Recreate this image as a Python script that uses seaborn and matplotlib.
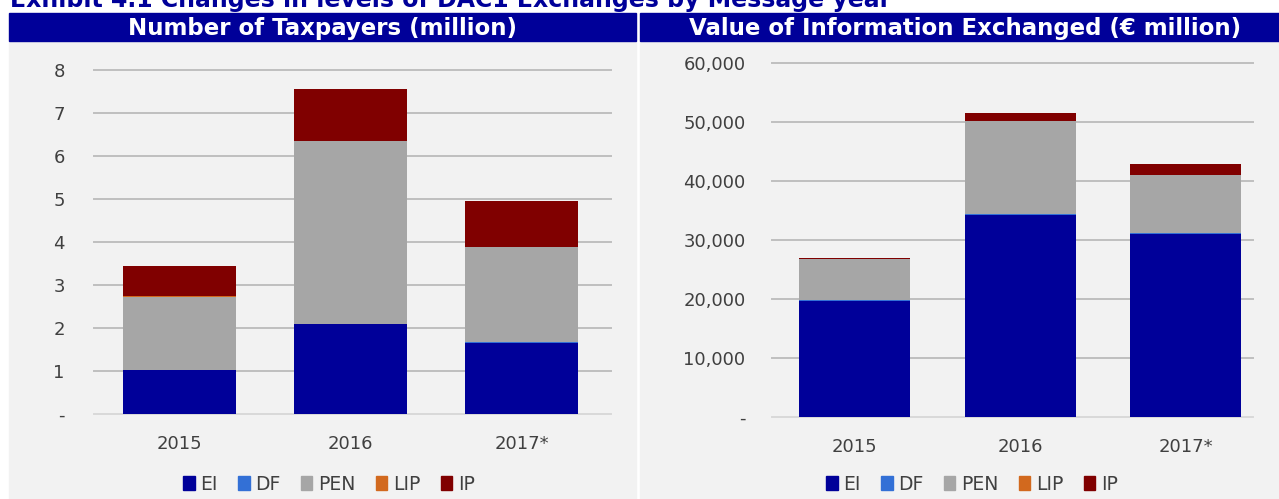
import seaborn as sns
import pandas as pd
import matplotlib
matplotlib.use('Agg')
import matplotlib.pyplot as mp
from matplotlib.patches import Rectangle
from matplotlib.ticker import FuncFormatter


years = ['2015', '2016', '2017*']
series = ['EI', 'DF', 'PEN', 'LIP', 'IP']
colors = ['#000099', '#3370d6', '#a6a6a6', '#d2691e', '#800000']

# number of taxpayers (million)
tp_ei = [1.02, 2.09, 1.66]
tp_df = [0.01, 0.01, 0.01]
tp_pen = [1.70, 4.25, 2.21]
tp_lip = [0.005, 0.005, 0.005]
tp_ip = [0.71, 1.21, 1.07]

# value of information exchanged (EUR million)
val_ei = [19600, 34200, 31000]
val_df = [150, 200, 180]
val_pen = [7000, 15800, 9800]
val_lip = [20, 30, 20]
val_ip = [130, 1300, 1900]

W, H = 1279, 499


def px(x0, y0, x1, y1):
    # pixel box (top-left origin) -> figure fraction rect
    return [x0 / W, (H - y1) / H, (x1 - x0) / W, (y1 - y0) / H]


def draw_panel(ax, values, ymax, step, xlim, bar_w, ypad):
    df = pd.DataFrame(values, index=series, columns=years).T
    cum = df.cumsum(axis=1)
    # draw the stacks from the top down so each layer covers the next
    for name, col in reversed(list(zip(series, colors))):
        sns.barplot(x=years, y=cum[name].values, color=col, saturation=1,
                    width=bar_w, edgecolor='none', ax=ax)
    ax.set_xlim(*xlim)
    ax.set_ylim(0, ymax)
    ax.set_yticks([i * step for i in range(int(round(ymax / step)) + 1)])
    ax.yaxis.set_major_formatter(FuncFormatter(
        lambda v, p: '-' if v == 0 else f'{v:,.0f}'))
    ax.set_axisbelow(True)
    ax.yaxis.grid(True, color='#bfbfbf', lw=1.4)
    ax.set_facecolor('none')
    ax.set_zorder(2)
    for s in ax.spines.values():
        s.set_visible(False)
    ax.tick_params(axis='both', length=0, labelsize=13, colors='#404040')
    ax.tick_params(axis='y', pad=ypad)
    ax.tick_params(axis='x', pad=15)
    ax.set_xlabel('')
    ax.set_ylabel('')
    grid = ax.get_ygridlines()
    for ln in grid:
        ln.set_clip_on(False)
    grid[0].set_color('#d9d9d9')


fig = mp.figure(figsize=(W / 100, H / 100), dpi=100)
fig.patch.set_facecolor('white')

# panel backgrounds and header bars
for box in [(9, 42, 636, 499), (640, 42, 1279, 499)]:
    fig.patches.append(Rectangle(px(*box)[:2], *px(*box)[2:],
                                 transform=fig.transFigure, color='#f2f2f2', zorder=0))
for box in [(9, 13, 636, 41), (640, 13, 1279, 41)]:
    fig.patches.append(Rectangle(px(*box)[:2], *px(*box)[2:],
                                 transform=fig.transFigure, color='#000099', zorder=0))

fig.text(10 / W, 1 - 7 / H, 'Exhibit 4.1 Changes in levels of DAC1 Exchanges by Message year',
         color='#000099', fontsize=17, fontweight='bold', ha='left', va='baseline')
fig.text(323 / W, 1 - 35 / H, 'Number of Taxpayers (million)',
         color='white', fontsize=16.5, fontweight='bold', ha='center', va='baseline')
fig.text(965 / W, 1 - 35 / H, 'Value of Information Exchanged (\u20ac million)',
         color='white', fontsize=16.5, fontweight='bold', ha='center', va='baseline')

ax1 = fig.add_axes(px(94, 70, 611, 414))
draw_panel(ax1, [tp_ei, tp_df, tp_pen, tp_lip, tp_ip], 8, 1,
           (-0.5, 2.52), 0.66, 21)

ax2 = fig.add_axes(px(772, 63, 1253, 417))
draw_panel(ax2, [val_ei, val_df, val_pen, val_lip, val_ip], 60000, 10000,
           (-0.5, 2.406), 0.67, 19)

handles = [Rectangle((0, 0), 1, 1, color=c) for c in colors]
for cx in [329, 972]:
    fig.legend(handles, series, loc='center', bbox_to_anchor=(cx / W, 1 - 484 / H),
               ncol=5, frameon=False, fontsize=13.5, handlelength=0.6,
               handleheight=0.8, handletextpad=0.3, columnspacing=1.1,
               labelcolor='#404040')

fig.savefig('out.png', dpi=100)
